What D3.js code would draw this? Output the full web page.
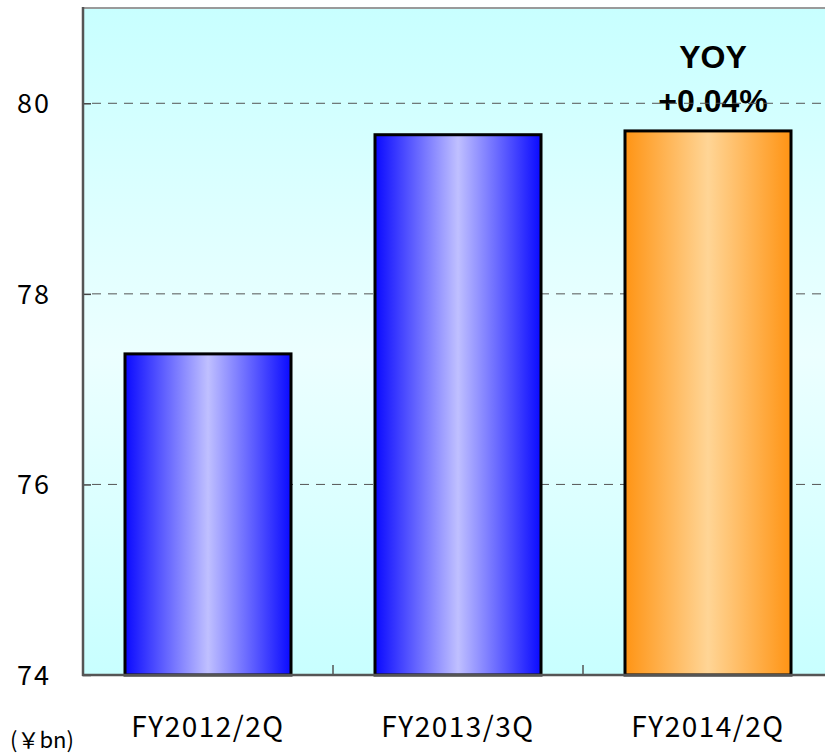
<!DOCTYPE html>
<html>
<head>
<meta charset="utf-8">
<script src="https://cdn.jsdelivr.net/npm/d3@7"></script>
<style>
  html, body { margin: 0; padding: 0; background: #ffffff; }
  svg { display: block; }
</style>
</head>
<body>
<svg id="chart" width="825" height="755"></svg>
<script>
// Quarterly figures (¥ bn)
const categories = ["FY2012/2Q", "FY2013/3Q", "FY2014/2Q"];
const values = [77.37, 79.67, 79.71];
const yTicks = [74, 76, 78, 80];
const unitLabel = "(￥bn)";
const noteLines = ["YOY", "+0.04%"];

const W = 825, H = 755;
const plot = { left: 83, top: 8, right: 833, bottom: 675 };

const svg = d3.select("#chart");
const defs = svg.append("defs");

// Background: light cyan, brighter toward the middle
const bg = defs.append("linearGradient").attr("id", "bgGrad")
  .attr("x1", 0).attr("y1", 0).attr("x2", 0).attr("y2", 1);
bg.append("stop").attr("offset", "0%").attr("stop-color", "#c8ffff");
bg.append("stop").attr("offset", "52%").attr("stop-color", "#ecffff");
bg.append("stop").attr("offset", "100%").attr("stop-color", "#c8ffff");

// Cylinder-like horizontal shading for the bars
function barGradient(id, edge, mid) {
  const g = defs.append("linearGradient").attr("id", id)
    .attr("x1", 0).attr("y1", 0).attr("x2", 1).attr("y2", 0);
  g.append("stop").attr("offset", "0%").attr("stop-color", edge);
  g.append("stop").attr("offset", "50%").attr("stop-color", mid);
  g.append("stop").attr("offset", "100%").attr("stop-color", edge);
}
barGradient("blueGrad", "#0a0aff", "#c0c0ff");
barGradient("orangeGrad", "#ff9414", "#ffd596");

const x = d3.scaleBand()
  .domain(categories)
  .range([plot.left, plot.right])
  .paddingInner(0.336)
  .paddingOuter(0.168);

const y = d3.scaleLinear().domain([74, 81]).range([plot.bottom, plot.top]);

// Plot background
svg.append("rect")
  .attr("x", plot.left).attr("y", plot.top)
  .attr("width", plot.right - plot.left).attr("height", plot.bottom - plot.top)
  .attr("fill", "url(#bgGrad)");

// Top frame line
svg.append("line")
  .attr("x1", plot.left).attr("x2", plot.right)
  .attr("y1", plot.top).attr("y2", plot.top)
  .attr("stroke", "#9a9a9a").attr("stroke-width", 2);

// Year-over-year note above the last bar
const noteX = x(categories[2]) + x.bandwidth() / 2 + 5;
svg.append("g").selectAll("text")
  .data(noteLines)
  .join("text")
  .attr("x", noteX)
  .attr("y", (d, i) => 68 + i * 44)
  .attr("text-anchor", "middle")
  .attr("font-family", "'Liberation Sans', Arial, sans-serif")
  .attr("font-weight", "bold").attr("font-size", 32)
  .attr("fill", "#000")
  .text(d => d);

// Dashed horizontal gridlines
svg.append("g").selectAll("line")
  .data(yTicks.filter(t => t > 74))
  .join("line")
  .attr("x1", plot.left + 9).attr("x2", plot.right)
  .attr("y1", d => y(d)).attr("y2", d => y(d))
  .attr("stroke", "#555").attr("stroke-width", 1)
  .attr("stroke-dasharray", "9,7");

// Bars
const fontJP = "'Noto Sans CJK JP', 'Noto Sans', sans-serif";
svg.append("g").selectAll("rect")
  .data(values)
  .join("rect")
  .attr("x", (d, i) => x(categories[i]))
  .attr("y", d => y(d))
  .attr("width", x.bandwidth())
  .attr("height", d => y(74) - y(d))
  .attr("fill", (d, i) => i === 2 ? "url(#orangeGrad)" : "url(#blueGrad)")
  .attr("stroke", "#000").attr("stroke-width", 3);

// Y axis with inward ticks
const yAxis = d3.axisRight(y).tickValues(yTicks).tickSize(8).tickFormat("");
const yg = svg.append("g").attr("transform", `translate(${plot.left},0)`).call(yAxis);
yg.select(".domain").remove();
yg.selectAll(".tick line").attr("stroke", "#444").attr("stroke-width", 1.5);
svg.append("line")
  .attr("x1", plot.left).attr("x2", plot.left)
  .attr("y1", plot.top - 1).attr("y2", plot.bottom + 1)
  .attr("stroke", "#555").attr("stroke-width", 2.5);

svg.append("g").selectAll("text")
  .data(yTicks)
  .join("text")
  .attr("x", 51).attr("y", d => y(d))
  .attr("dy", "0.36em")
  .attr("text-anchor", "end")
  .attr("font-family", fontJP).attr("font-size", 27)
  .attr("letter-spacing", 2)
  .attr("fill", "#000")
  .text(d => d);

// X axis: baseline and small upward ticks between categories
const bounds = [1, 2].map(i => x(categories[i]) - x.step() * x.paddingInner() / 2);
svg.append("g").selectAll("line")
  .data(bounds)
  .join("line")
  .attr("x1", d => d).attr("x2", d => d)
  .attr("y1", plot.bottom).attr("y2", plot.bottom - 10)
  .attr("stroke", "#555").attr("stroke-width", 1.5);
svg.append("line")
  .attr("x1", plot.left - 1).attr("x2", plot.right)
  .attr("y1", plot.bottom).attr("y2", plot.bottom)
  .attr("stroke", "#555").attr("stroke-width", 2.5);

// Category labels
svg.append("g").selectAll("text")
  .data(categories)
  .join("text")
  .attr("x", d => x(d) + x.bandwidth() / 2)
  .attr("y", 737)
  .attr("text-anchor", "middle")
  .attr("font-family", fontJP).attr("font-size", 28)
  .attr("letter-spacing", 1.5)
  .attr("fill", "#000")
  .text(d => d);

// Unit label
svg.append("text")
  .attr("x", 10).attr("y", 748)
  .attr("font-family", fontJP).attr("font-size", 22)
  .attr("fill", "#000")
  .text(unitLabel);
</script>
</body>
</html>
